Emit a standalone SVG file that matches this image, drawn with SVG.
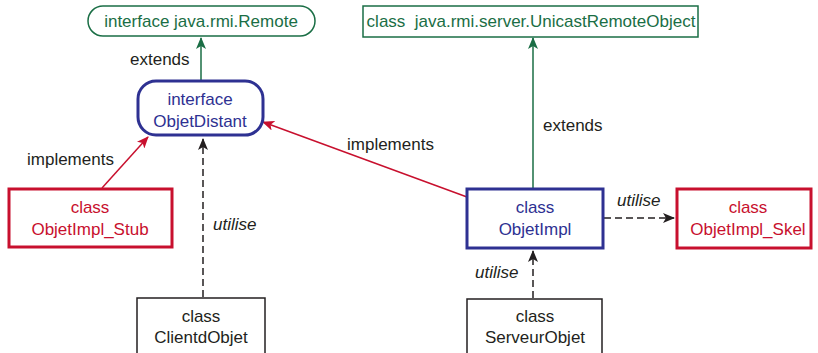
<svg xmlns="http://www.w3.org/2000/svg" width="818" height="353" viewBox="0 0 818 353">
<defs>
<style>
.t{font-family:"Liberation Sans",Arial,sans-serif;font-size:17px;text-anchor:middle}
.g{fill:#1a6e45}.b{fill:#2e3192}.r{fill:#c8102e}.k{fill:#231f20}
.lab{font-family:"Liberation Sans",Arial,sans-serif;font-size:17px;fill:#231f20}
.it{font-style:italic}
</style>
<marker id="ag" viewBox="0 0 12 10" refX="11" refY="5" markerWidth="12" markerHeight="10" markerUnits="userSpaceOnUse" orient="auto"><path d="M0,0 L12,5 L0,10 L3,5 Z" fill="#1a6e45"/></marker>
<marker id="ar" viewBox="0 0 12 10" refX="11" refY="5" markerWidth="12" markerHeight="10" markerUnits="userSpaceOnUse" orient="auto"><path d="M0,0 L12,5 L0,10 L3,5 Z" fill="#c8102e"/></marker>
<marker id="ak" viewBox="0 0 12 10" refX="11" refY="5" markerWidth="12" markerHeight="10" markerUnits="userSpaceOnUse" orient="auto"><path d="M0,0 L12,5 L0,10 L3,5 Z" fill="#231f20"/></marker>
</defs>
<rect width="818" height="353" fill="#fff"/>
<g id="connectors" fill="none">
<line x1="201" y1="80" x2="201" y2="38" stroke="#1a6e45" stroke-width="1.5" marker-end="url(#ag)"/>
<line x1="533" y1="188" x2="533" y2="38" stroke="#1a6e45" stroke-width="1.5" marker-end="url(#ag)"/>
<line x1="102" y1="188" x2="148" y2="137" stroke="#c8102e" stroke-width="1.5" marker-end="url(#ar)"/>
<line x1="467" y1="197" x2="263" y2="122" stroke="#c8102e" stroke-width="1.5" marker-end="url(#ar)"/>
<line x1="203" y1="297" x2="203" y2="139" stroke="#231f20" stroke-width="1.5" stroke-dasharray="7,4" marker-end="url(#ak)"/>
<line x1="533" y1="298" x2="533" y2="251" stroke="#231f20" stroke-width="1.5" stroke-dasharray="7,4" marker-end="url(#ak)"/>
<line x1="604" y1="218" x2="674" y2="218" stroke="#231f20" stroke-width="1.5" stroke-dasharray="7,4" marker-end="url(#ak)"/>
<text class="lab" x="130" y="65">extends</text>
<text class="lab" x="543" y="131">extends</text>
<text class="lab" x="27" y="165">implements</text>
<text class="lab" x="347" y="150">implements</text>
<text class="lab it" x="213" y="230">utilise</text>
<text class="lab it" x="475" y="278">utilise</text>
<text class="lab it" x="617" y="206">utilise</text>
</g>
<g id="remote">
<rect x="88" y="6" width="227" height="30" rx="15" fill="#fff" stroke="#1a6e45" stroke-width="1.5"/>
<text class="t g" x="201" y="27">interface java.rmi.Remote</text>
</g>
<g id="unicast">
<rect x="363" y="6" width="335" height="31" fill="#fff" stroke="#1a6e45" stroke-width="1.5"/>
<text class="t g" x="531" y="27" xml:space="preserve">class  java.rmi.server.UnicastRemoteObject</text>
</g>
<g id="objetDistant">
<rect x="138" y="81" width="125" height="54" rx="18" fill="#fff" stroke="#2e3192" stroke-width="3"/>
<text class="t b" x="200" y="105">interface</text>
<text class="t b" x="200" y="127">ObjetDistant</text>
</g>
<g id="stub">
<rect x="9" y="189" width="163" height="58" fill="#fff" stroke="#c8102e" stroke-width="3"/>
<text class="t r" x="90" y="213">class</text>
<text class="t r" x="90" y="235">ObjetImpl_Stub</text>
</g>
<g id="objetImpl">
<rect x="467" y="189" width="136" height="59" fill="#fff" stroke="#2e3192" stroke-width="3"/>
<text class="t b" x="535" y="213">class</text>
<text class="t b" x="535" y="235">ObjetImpl</text>
</g>
<g id="skel">
<rect x="677" y="189" width="134" height="59" fill="#fff" stroke="#c8102e" stroke-width="3"/>
<text class="t r" x="748" y="213">class</text>
<text class="t r" x="748" y="235">ObjetImpl_Skel</text>
</g>
<g id="client">
<rect x="137" y="298" width="128" height="70" fill="#fff" stroke="#231f20" stroke-width="1.5"/>
<text class="t k" x="201" y="322">class</text>
<text class="t k" x="201" y="343">ClientdObjet</text>
</g>
<g id="serveur">
<rect x="467" y="299" width="135" height="70" fill="#fff" stroke="#231f20" stroke-width="1.5"/>
<text class="t k" x="535" y="322">class</text>
<text class="t k" x="535" y="343">ServeurObjet</text>
</g>
</svg>
